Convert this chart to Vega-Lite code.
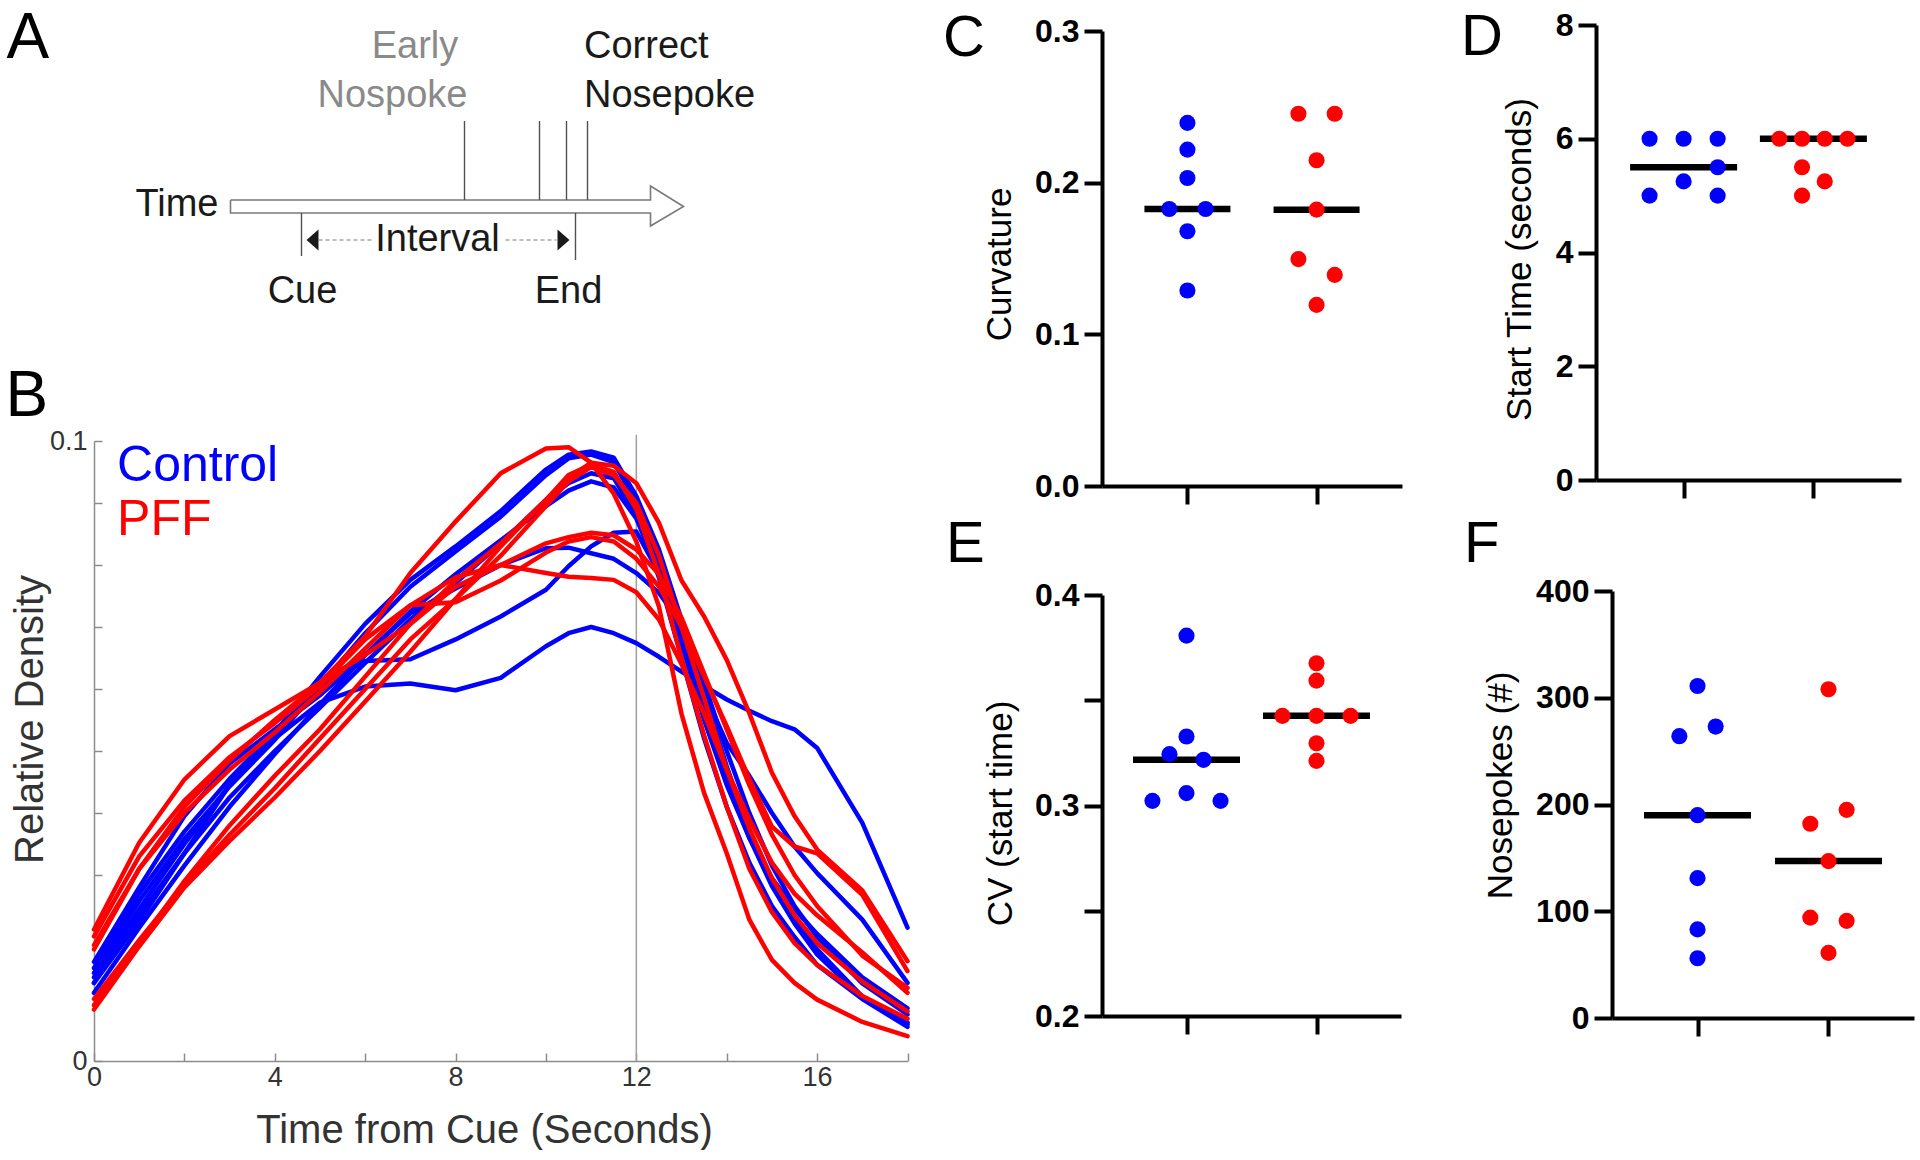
{
"$schema": "https://vega.github.io/schema/vega-lite/v6.json",
"background": "white",
"padding": {"left": 5, "top": 7, "right": 0, "bottom": 0},
"columns": 3,
"align": "none",
"bounds": "flush",
"spacing": {"row": 109, "column": 194},
"datasets": {
"curves": [
{"g":"Control","id":"c1","t":0,"v":0.0135},{"g":"Control","id":"c1","t":1,"v":0.0245},{"g":"Control","id":"c1","t":2,"v":0.035},{"g":"Control","id":"c1","t":3,"v":0.0445},{"g":"Control","id":"c1","t":4,"v":0.052},{"g":"Control","id":"c1","t":5,"v":0.0578},{"g":"Control","id":"c1","t":6,"v":0.0604},{"g":"Control","id":"c1","t":7,"v":0.0609},{"g":"Control","id":"c1","t":8,"v":0.0598},{"g":"Control","id":"c1","t":9,"v":0.0618},{"g":"Control","id":"c1","t":10,"v":0.0669},{"g":"Control","id":"c1","t":10.5,"v":0.069},{"g":"Control","id":"c1","t":11,"v":0.07},{"g":"Control","id":"c1","t":11.5,"v":0.069},{"g":"Control","id":"c1","t":12,"v":0.0674},{"g":"Control","id":"c1","t":12.5,"v":0.0652},{"g":"Control","id":"c1","t":13,"v":0.0628},{"g":"Control","id":"c1","t":13.5,"v":0.0605},{"g":"Control","id":"c1","t":14,"v":0.0583},{"g":"Control","id":"c1","t":14.5,"v":0.0565},{"g":"Control","id":"c1","t":15,"v":0.0548},{"g":"Control","id":"c1","t":15.5,"v":0.0535},{"g":"Control","id":"c1","t":16,"v":0.0505},{"g":"Control","id":"c1","t":17,"v":0.0384},{"g":"Control","id":"c1","t":18,"v":0.0215},
{"g":"Control","id":"c2","t":0,"v":0.015},{"g":"Control","id":"c2","t":1,"v":0.027},{"g":"Control","id":"c2","t":2,"v":0.037},{"g":"Control","id":"c2","t":3,"v":0.0455},{"g":"Control","id":"c2","t":4,"v":0.053},{"g":"Control","id":"c2","t":5,"v":0.062},{"g":"Control","id":"c2","t":6,"v":0.0705},{"g":"Control","id":"c2","t":7,"v":0.0776},{"g":"Control","id":"c2","t":8,"v":0.083},{"g":"Control","id":"c2","t":9,"v":0.0887},{"g":"Control","id":"c2","t":10,"v":0.0954},{"g":"Control","id":"c2","t":10.5,"v":0.0978},{"g":"Control","id":"c2","t":11,"v":0.0983},{"g":"Control","id":"c2","t":11.5,"v":0.0973},{"g":"Control","id":"c2","t":12,"v":0.0911},{"g":"Control","id":"c2","t":12.5,"v":0.0825},{"g":"Control","id":"c2","t":13,"v":0.0712},{"g":"Control","id":"c2","t":13.5,"v":0.0594},{"g":"Control","id":"c2","t":14,"v":0.0475},{"g":"Control","id":"c2","t":14.5,"v":0.037},{"g":"Control","id":"c2","t":15,"v":0.0292},{"g":"Control","id":"c2","t":15.5,"v":0.0228},{"g":"Control","id":"c2","t":16,"v":0.018},{"g":"Control","id":"c2","t":17,"v":0.0104},{"g":"Control","id":"c2","t":18,"v":0.0059},
{"g":"Control","id":"c3","t":0,"v":0.0142},{"g":"Control","id":"c3","t":1,"v":0.0258},{"g":"Control","id":"c3","t":2,"v":0.0358},{"g":"Control","id":"c3","t":3,"v":0.0443},{"g":"Control","id":"c3","t":4,"v":0.0518},{"g":"Control","id":"c3","t":5,"v":0.0605},{"g":"Control","id":"c3","t":6,"v":0.069},{"g":"Control","id":"c3","t":7,"v":0.0765},{"g":"Control","id":"c3","t":8,"v":0.0822},{"g":"Control","id":"c3","t":9,"v":0.0878},{"g":"Control","id":"c3","t":10,"v":0.0945},{"g":"Control","id":"c3","t":10.5,"v":0.0972},{"g":"Control","id":"c3","t":11,"v":0.0978},{"g":"Control","id":"c3","t":11.5,"v":0.0966},{"g":"Control","id":"c3","t":12,"v":0.09},{"g":"Control","id":"c3","t":12.5,"v":0.0805},{"g":"Control","id":"c3","t":13,"v":0.069},{"g":"Control","id":"c3","t":13.5,"v":0.057},{"g":"Control","id":"c3","t":14,"v":0.0455},{"g":"Control","id":"c3","t":14.5,"v":0.036},{"g":"Control","id":"c3","t":15,"v":0.0282},{"g":"Control","id":"c3","t":15.5,"v":0.0222},{"g":"Control","id":"c3","t":16,"v":0.0172},{"g":"Control","id":"c3","t":17,"v":0.0102},{"g":"Control","id":"c3","t":18,"v":0.0062},
{"g":"Control","id":"c4","t":0,"v":0.0126},{"g":"Control","id":"c4","t":1,"v":0.0235},{"g":"Control","id":"c4","t":2,"v":0.0335},{"g":"Control","id":"c4","t":3,"v":0.0425},{"g":"Control","id":"c4","t":4,"v":0.05},{"g":"Control","id":"c4","t":5,"v":0.057},{"g":"Control","id":"c4","t":6,"v":0.0642},{"g":"Control","id":"c4","t":7,"v":0.0712},{"g":"Control","id":"c4","t":8,"v":0.0771},{"g":"Control","id":"c4","t":9,"v":0.0835},{"g":"Control","id":"c4","t":10,"v":0.0905},{"g":"Control","id":"c4","t":10.5,"v":0.0932},{"g":"Control","id":"c4","t":11,"v":0.0948},{"g":"Control","id":"c4","t":11.5,"v":0.094},{"g":"Control","id":"c4","t":12,"v":0.088},{"g":"Control","id":"c4","t":12.5,"v":0.078},{"g":"Control","id":"c4","t":13,"v":0.065},{"g":"Control","id":"c4","t":13.5,"v":0.052},{"g":"Control","id":"c4","t":14,"v":0.041},{"g":"Control","id":"c4","t":14.5,"v":0.032},{"g":"Control","id":"c4","t":15,"v":0.025},{"g":"Control","id":"c4","t":15.5,"v":0.02},{"g":"Control","id":"c4","t":16,"v":0.0155},{"g":"Control","id":"c4","t":17,"v":0.01},{"g":"Control","id":"c4","t":18,"v":0.0055},
{"g":"Control","id":"c5","t":0,"v":0.011},{"g":"Control","id":"c5","t":1,"v":0.0215},{"g":"Control","id":"c5","t":2,"v":0.0315},{"g":"Control","id":"c5","t":3,"v":0.041},{"g":"Control","id":"c5","t":4,"v":0.0495},{"g":"Control","id":"c5","t":5,"v":0.0575},{"g":"Control","id":"c5","t":6,"v":0.0655},{"g":"Control","id":"c5","t":7,"v":0.0725},{"g":"Control","id":"c5","t":8,"v":0.0785},{"g":"Control","id":"c5","t":9,"v":0.084},{"g":"Control","id":"c5","t":10,"v":0.0895},{"g":"Control","id":"c5","t":10.5,"v":0.092},{"g":"Control","id":"c5","t":11,"v":0.0935},{"g":"Control","id":"c5","t":11.5,"v":0.0925},{"g":"Control","id":"c5","t":12,"v":0.0875},{"g":"Control","id":"c5","t":12.5,"v":0.079},{"g":"Control","id":"c5","t":13,"v":0.0675},{"g":"Control","id":"c5","t":13.5,"v":0.055},{"g":"Control","id":"c5","t":14,"v":0.0445},{"g":"Control","id":"c5","t":14.5,"v":0.036},{"g":"Control","id":"c5","t":15,"v":0.0295},{"g":"Control","id":"c5","t":15.5,"v":0.0245},{"g":"Control","id":"c5","t":16,"v":0.0205},{"g":"Control","id":"c5","t":17,"v":0.0135},{"g":"Control","id":"c5","t":18,"v":0.0085},
{"g":"Control","id":"c6","t":0,"v":0.016},{"g":"Control","id":"c6","t":1,"v":0.028},{"g":"Control","id":"c6","t":2,"v":0.0395},{"g":"Control","id":"c6","t":3,"v":0.048},{"g":"Control","id":"c6","t":4,"v":0.0535},{"g":"Control","id":"c6","t":5,"v":0.059},{"g":"Control","id":"c6","t":6,"v":0.0655},{"g":"Control","id":"c6","t":7,"v":0.0722},{"g":"Control","id":"c6","t":8,"v":0.0762},{"g":"Control","id":"c6","t":9,"v":0.08},{"g":"Control","id":"c6","t":10,"v":0.0827},{"g":"Control","id":"c6","t":10.5,"v":0.0828},{"g":"Control","id":"c6","t":11,"v":0.0819},{"g":"Control","id":"c6","t":11.5,"v":0.081},{"g":"Control","id":"c6","t":12,"v":0.0787},{"g":"Control","id":"c6","t":12.5,"v":0.0755},{"g":"Control","id":"c6","t":13,"v":0.0705},{"g":"Control","id":"c6","t":13.5,"v":0.061},{"g":"Control","id":"c6","t":14,"v":0.05},{"g":"Control","id":"c6","t":14.5,"v":0.04},{"g":"Control","id":"c6","t":15,"v":0.0315},{"g":"Control","id":"c6","t":15.5,"v":0.025},{"g":"Control","id":"c6","t":16,"v":0.02},{"g":"Control","id":"c6","t":17,"v":0.0125},{"g":"Control","id":"c6","t":18,"v":0.0075},
{"g":"Control","id":"c7","t":0,"v":0.0126},{"g":"Control","id":"c7","t":1,"v":0.0225},{"g":"Control","id":"c7","t":2,"v":0.0335},{"g":"Control","id":"c7","t":3,"v":0.0445},{"g":"Control","id":"c7","t":4,"v":0.053},{"g":"Control","id":"c7","t":5,"v":0.0605},{"g":"Control","id":"c7","t":6,"v":0.0645},{"g":"Control","id":"c7","t":7,"v":0.0648},{"g":"Control","id":"c7","t":8,"v":0.068},{"g":"Control","id":"c7","t":9,"v":0.0717},{"g":"Control","id":"c7","t":10,"v":0.076},{"g":"Control","id":"c7","t":10.5,"v":0.0798},{"g":"Control","id":"c7","t":11,"v":0.083},{"g":"Control","id":"c7","t":11.5,"v":0.0852},{"g":"Control","id":"c7","t":12,"v":0.0854},{"g":"Control","id":"c7","t":12.5,"v":0.0787},{"g":"Control","id":"c7","t":13,"v":0.069},{"g":"Control","id":"c7","t":13.5,"v":0.0594},{"g":"Control","id":"c7","t":14,"v":0.0513},{"g":"Control","id":"c7","t":14.5,"v":0.046},{"g":"Control","id":"c7","t":15,"v":0.04},{"g":"Control","id":"c7","t":15.5,"v":0.0346},{"g":"Control","id":"c7","t":16,"v":0.0303},{"g":"Control","id":"c7","t":17,"v":0.0228},{"g":"Control","id":"c7","t":18,"v":0.0126},
{"g":"PFF","id":"p1","t":0,"v":0.018},{"g":"PFF","id":"p1","t":1,"v":0.031},{"g":"PFF","id":"p1","t":2,"v":0.041},{"g":"PFF","id":"p1","t":3,"v":0.0485},{"g":"PFF","id":"p1","t":4,"v":0.055},{"g":"PFF","id":"p1","t":5,"v":0.061},{"g":"PFF","id":"p1","t":6,"v":0.0685},{"g":"PFF","id":"p1","t":7,"v":0.0787},{"g":"PFF","id":"p1","t":8,"v":0.087},{"g":"PFF","id":"p1","t":9,"v":0.0948},{"g":"PFF","id":"p1","t":10,"v":0.0988},{"g":"PFF","id":"p1","t":10.5,"v":0.099},{"g":"PFF","id":"p1","t":11,"v":0.0965},{"g":"PFF","id":"p1","t":11.5,"v":0.0915},{"g":"PFF","id":"p1","t":12,"v":0.0838},{"g":"PFF","id":"p1","t":12.5,"v":0.0733},{"g":"PFF","id":"p1","t":13,"v":0.056},{"g":"PFF","id":"p1","t":13.5,"v":0.0432},{"g":"PFF","id":"p1","t":14,"v":0.0335},{"g":"PFF","id":"p1","t":14.5,"v":0.0228},{"g":"PFF","id":"p1","t":15,"v":0.0163},{"g":"PFF","id":"p1","t":15.5,"v":0.0126},{"g":"PFF","id":"p1","t":16,"v":0.0099},{"g":"PFF","id":"p1","t":17,"v":0.0063},{"g":"PFF","id":"p1","t":18,"v":0.004},
{"g":"PFF","id":"p2","t":0,"v":0.009},{"g":"PFF","id":"p2","t":1,"v":0.019},{"g":"PFF","id":"p2","t":2,"v":0.029},{"g":"PFF","id":"p2","t":3,"v":0.038},{"g":"PFF","id":"p2","t":4,"v":0.046},{"g":"PFF","id":"p2","t":5,"v":0.0535},{"g":"PFF","id":"p2","t":6,"v":0.062},{"g":"PFF","id":"p2","t":7,"v":0.0705},{"g":"PFF","id":"p2","t":8,"v":0.0775},{"g":"PFF","id":"p2","t":9,"v":0.0835},{"g":"PFF","id":"p2","t":10,"v":0.0905},{"g":"PFF","id":"p2","t":10.5,"v":0.094},{"g":"PFF","id":"p2","t":11,"v":0.0965},{"g":"PFF","id":"p2","t":11.5,"v":0.096},{"g":"PFF","id":"p2","t":12,"v":0.0932},{"g":"PFF","id":"p2","t":12.5,"v":0.0868},{"g":"PFF","id":"p2","t":13,"v":0.0775},{"g":"PFF","id":"p2","t":13.5,"v":0.0717},{"g":"PFF","id":"p2","t":14,"v":0.0647},{"g":"PFF","id":"p2","t":14.5,"v":0.0561},{"g":"PFF","id":"p2","t":15,"v":0.0465},{"g":"PFF","id":"p2","t":15.5,"v":0.0395},{"g":"PFF","id":"p2","t":16,"v":0.0341},{"g":"PFF","id":"p2","t":17,"v":0.0275},{"g":"PFF","id":"p2","t":18,"v":0.0161},
{"g":"PFF","id":"p3","t":0,"v":0.01},{"g":"PFF","id":"p3","t":1,"v":0.0195},{"g":"PFF","id":"p3","t":2,"v":0.0285},{"g":"PFF","id":"p3","t":3,"v":0.0365},{"g":"PFF","id":"p3","t":4,"v":0.044},{"g":"PFF","id":"p3","t":5,"v":0.052},{"g":"PFF","id":"p3","t":6,"v":0.06},{"g":"PFF","id":"p3","t":7,"v":0.068},{"g":"PFF","id":"p3","t":8,"v":0.0745},{"g":"PFF","id":"p3","t":9,"v":0.0815},{"g":"PFF","id":"p3","t":10,"v":0.0895},{"g":"PFF","id":"p3","t":10.5,"v":0.0935},{"g":"PFF","id":"p3","t":11,"v":0.0958},{"g":"PFF","id":"p3","t":11.5,"v":0.0945},{"g":"PFF","id":"p3","t":12,"v":0.09},{"g":"PFF","id":"p3","t":12.5,"v":0.0815},{"g":"PFF","id":"p3","t":13,"v":0.07},{"g":"PFF","id":"p3","t":13.5,"v":0.0585},{"g":"PFF","id":"p3","t":14,"v":0.047},{"g":"PFF","id":"p3","t":14.5,"v":0.0375},{"g":"PFF","id":"p3","t":15,"v":0.0295},{"g":"PFF","id":"p3","t":15.5,"v":0.0235},{"g":"PFF","id":"p3","t":16,"v":0.019},{"g":"PFF","id":"p3","t":17,"v":0.0128},{"g":"PFF","id":"p3","t":18,"v":0.008},
{"g":"PFF","id":"p4","t":0,"v":0.0212},{"g":"PFF","id":"p4","t":1,"v":0.0352},{"g":"PFF","id":"p4","t":2,"v":0.0454},{"g":"PFF","id":"p4","t":3,"v":0.0524},{"g":"PFF","id":"p4","t":4,"v":0.0567},{"g":"PFF","id":"p4","t":5,"v":0.061},{"g":"PFF","id":"p4","t":6,"v":0.0655},{"g":"PFF","id":"p4","t":7,"v":0.0705},{"g":"PFF","id":"p4","t":8,"v":0.0765},{"g":"PFF","id":"p4","t":9,"v":0.08},{"g":"PFF","id":"p4","t":10,"v":0.0835},{"g":"PFF","id":"p4","t":10.5,"v":0.0845},{"g":"PFF","id":"p4","t":11,"v":0.0852},{"g":"PFF","id":"p4","t":11.5,"v":0.0848},{"g":"PFF","id":"p4","t":12,"v":0.0825},{"g":"PFF","id":"p4","t":12.5,"v":0.0785},{"g":"PFF","id":"p4","t":13,"v":0.0715},{"g":"PFF","id":"p4","t":13.5,"v":0.0625},{"g":"PFF","id":"p4","t":14,"v":0.0535},{"g":"PFF","id":"p4","t":14.5,"v":0.0445},{"g":"PFF","id":"p4","t":15,"v":0.0365},{"g":"PFF","id":"p4","t":15.5,"v":0.03},{"g":"PFF","id":"p4","t":16,"v":0.025},{"g":"PFF","id":"p4","t":17,"v":0.017},{"g":"PFF","id":"p4","t":18,"v":0.0118},
{"g":"PFF","id":"p5","t":0,"v":0.0201},{"g":"PFF","id":"p5","t":1,"v":0.033},{"g":"PFF","id":"p5","t":2,"v":0.042},{"g":"PFF","id":"p5","t":3,"v":0.049},{"g":"PFF","id":"p5","t":4,"v":0.0545},{"g":"PFF","id":"p5","t":5,"v":0.0605},{"g":"PFF","id":"p5","t":6,"v":0.068},{"g":"PFF","id":"p5","t":7,"v":0.0735},{"g":"PFF","id":"p5","t":8,"v":0.074},{"g":"PFF","id":"p5","t":9,"v":0.0775},{"g":"PFF","id":"p5","t":10,"v":0.082},{"g":"PFF","id":"p5","t":10.5,"v":0.0838},{"g":"PFF","id":"p5","t":11,"v":0.0845},{"g":"PFF","id":"p5","t":11.5,"v":0.0838},{"g":"PFF","id":"p5","t":12,"v":0.081},{"g":"PFF","id":"p5","t":12.5,"v":0.0765},{"g":"PFF","id":"p5","t":13,"v":0.07},{"g":"PFF","id":"p5","t":13.5,"v":0.062},{"g":"PFF","id":"p5","t":14,"v":0.054},{"g":"PFF","id":"p5","t":14.5,"v":0.0455},{"g":"PFF","id":"p5","t":15,"v":0.0378},{"g":"PFF","id":"p5","t":15.5,"v":0.0346},{"g":"PFF","id":"p5","t":16,"v":0.0335},{"g":"PFF","id":"p5","t":17,"v":0.0268},{"g":"PFF","id":"p5","t":18,"v":0.0145},
{"g":"PFF","id":"p6","t":0,"v":0.0187},{"g":"PFF","id":"p6","t":1,"v":0.031},{"g":"PFF","id":"p6","t":2,"v":0.04},{"g":"PFF","id":"p6","t":3,"v":0.047},{"g":"PFF","id":"p6","t":4,"v":0.053},{"g":"PFF","id":"p6","t":5,"v":0.0595},{"g":"PFF","id":"p6","t":6,"v":0.0665},{"g":"PFF","id":"p6","t":7,"v":0.0735},{"g":"PFF","id":"p6","t":8,"v":0.078},{"g":"PFF","id":"p6","t":9,"v":0.08},{"g":"PFF","id":"p6","t":10,"v":0.0787},{"g":"PFF","id":"p6","t":10.5,"v":0.0781},{"g":"PFF","id":"p6","t":11,"v":0.0779},{"g":"PFF","id":"p6","t":11.5,"v":0.0776},{"g":"PFF","id":"p6","t":12,"v":0.0756},{"g":"PFF","id":"p6","t":12.5,"v":0.0712},{"g":"PFF","id":"p6","t":13,"v":0.064},{"g":"PFF","id":"p6","t":13.5,"v":0.056},{"g":"PFF","id":"p6","t":14,"v":0.047},{"g":"PFF","id":"p6","t":14.5,"v":0.039},{"g":"PFF","id":"p6","t":15,"v":0.032},{"g":"PFF","id":"p6","t":15.5,"v":0.027},{"g":"PFF","id":"p6","t":16,"v":0.0235},{"g":"PFF","id":"p6","t":17,"v":0.0175},{"g":"PFF","id":"p6","t":18,"v":0.011},
{"g":"PFF","id":"p7","t":0,"v":0.0083},{"g":"PFF","id":"p7","t":1,"v":0.0185},{"g":"PFF","id":"p7","t":2,"v":0.028},{"g":"PFF","id":"p7","t":3,"v":0.0355},{"g":"PFF","id":"p7","t":4,"v":0.0425},{"g":"PFF","id":"p7","t":5,"v":0.05},{"g":"PFF","id":"p7","t":6,"v":0.058},{"g":"PFF","id":"p7","t":7,"v":0.066},{"g":"PFF","id":"p7","t":8,"v":0.0745},{"g":"PFF","id":"p7","t":9,"v":0.083},{"g":"PFF","id":"p7","t":10,"v":0.0905},{"g":"PFF","id":"p7","t":10.5,"v":0.0945},{"g":"PFF","id":"p7","t":11,"v":0.0962},{"g":"PFF","id":"p7","t":11.5,"v":0.095},{"g":"PFF","id":"p7","t":12,"v":0.089},{"g":"PFF","id":"p7","t":12.5,"v":0.0785},{"g":"PFF","id":"p7","t":13,"v":0.065},{"g":"PFF","id":"p7","t":13.5,"v":0.0525},{"g":"PFF","id":"p7","t":14,"v":0.041},{"g":"PFF","id":"p7","t":14.5,"v":0.031},{"g":"PFF","id":"p7","t":15,"v":0.024},{"g":"PFF","id":"p7","t":15.5,"v":0.019},{"g":"PFF","id":"p7","t":16,"v":0.0155},{"g":"PFF","id":"p7","t":17,"v":0.0105},{"g":"PFF","id":"p7","t":18,"v":0.0068}
],
"c": [
{"g":"Control","v":0.2394,"s":0},{"g":"Control","v":0.2218,"s":0},{"g":"Control","v":0.2031,"s":0},{"g":"Control","v":0.1826,"s":-0.8},{"g":"Control","v":0.1826,"s":0.8},{"g":"Control","v":0.168,"s":0},{"g":"Control","v":0.1289,"s":0},
{"g":"PFF","v":0.2454,"s":-0.8},{"g":"PFF","v":0.2454,"s":0.8},{"g":"PFF","v":0.2148,"s":0},{"g":"PFF","v":0.1822,"s":0},{"g":"PFF","v":0.1496,"s":-0.8},{"g":"PFF","v":0.1392,"s":0.8},{"g":"PFF","v":0.1194,"s":0}
],
"d": [
{"g":"Control","v":6,"s":-1.5},{"g":"Control","v":6,"s":0},{"g":"Control","v":6,"s":1.5},{"g":"Control","v":5.5,"s":1.5},{"g":"Control","v":5.25,"s":0},{"g":"Control","v":5,"s":-1.5},{"g":"Control","v":5,"s":1.5},
{"g":"PFF","v":6,"s":-1.5},{"g":"PFF","v":6,"s":-0.5},{"g":"PFF","v":6,"s":0.5},{"g":"PFF","v":6,"s":1.5},{"g":"PFF","v":5.5,"s":-0.5},{"g":"PFF","v":5.25,"s":0.5},{"g":"PFF","v":5,"s":-0.5}
],
"e": [
{"g":"Control","v":0.3807,"s":0},{"g":"Control","v":0.3328,"s":0},{"g":"Control","v":0.3244,"s":-0.75},{"g":"Control","v":0.3217,"s":0.75},{"g":"Control","v":0.3059,"s":0},{"g":"Control","v":0.3022,"s":-1.5},{"g":"Control","v":0.3022,"s":1.5},
{"g":"PFF","v":0.3676,"s":0},{"g":"PFF","v":0.3593,"s":0},{"g":"PFF","v":0.3426,"s":-1.5},{"g":"PFF","v":0.3426,"s":0},{"g":"PFF","v":0.3426,"s":1.5},{"g":"PFF","v":0.3296,"s":0},{"g":"PFF","v":0.3212,"s":0}
],
"f": [
{"g":"Control","v":311,"s":0},{"g":"Control","v":273,"s":0.8},{"g":"Control","v":264,"s":-0.8},{"g":"Control","v":190,"s":0},{"g":"Control","v":131,"s":0},{"g":"Control","v":83,"s":0},{"g":"Control","v":56,"s":0},
{"g":"PFF","v":308,"s":0},{"g":"PFF","v":195,"s":0.8},{"g":"PFF","v":182,"s":-0.8},{"g":"PFF","v":147,"s":0},{"g":"PFF","v":94,"s":-0.8},{"g":"PFF","v":91,"s":0.8},{"g":"PFF","v":61,"s":0}
]
},
"concat": [
{
"width": 813.5,
"height": 307,
"title": {"text": "A", "dx": -87.5, "dy": 50, "fontSize": 64},
"encoding": {
"x": {"field": "u", "type": "quantitative", "scale": {"domain": [0, 81.35], "nice": false, "zero": false}, "axis": null},
"y": {"field": "w", "type": "quantitative", "scale": {"domain": [0, 30.7], "nice": false, "zero": false}, "axis": null}
},
"layer": [
{
"data": {"values": [{"i":1,"u":13.65,"w":13.2},{"i":2,"u":55.65,"w":13.2},{"i":3,"u":55.65,"w":14.6},{"i":4,"u":58.95,"w":12.55},{"i":5,"u":55.65,"w":10.6},{"i":6,"u":55.65,"w":11.9},{"i":7,"u":13.65,"w":11.9},{"i":8,"u":13.65,"w":13.2}]},
"mark": {"type": "line", "color": "#7a7a7a", "strokeWidth": 1.6, "strokeJoin": "miter"},
"encoding": {"order": {"field": "i", "type": "quantitative"}}
},
{
"data": {"values": [{"u":37.05,"w":13.2,"w2":21.1},{"u":44.55,"w":13.2,"w2":21.1},{"u":47.25,"w":13.2,"w2":21.1},{"u":49.35,"w":13.2,"w2":21.1},{"u":20.75,"w":7.6,"w2":11.9},{"u":48.15,"w":7.2,"w2":11.9}]},
"mark": {"type": "rule", "color": "#505050", "strokeWidth": 1.4},
"encoding": {"y2": {"field": "w2"}}
},
{
"data": {"values": [{"u":22.45,"u2":27.95,"w":9.2},{"u":41.15,"u2":46.25,"w":9.2}]},
"mark": {"type": "rule", "color": "#a8a8a8", "strokeWidth": 1.4, "strokeDash": [4, 3]},
"encoding": {"x2": {"field": "u2"}}
},
{
"data": {"values": [{"u":21.85,"w":9.2,"dir":"left"},{"u":46.95,"w":9.2,"dir":"right"}]},
"mark": {"type": "point", "filled": true, "color": "#1a1a1a", "size": 441, "opacity": 1, "strokeWidth": 0},
"encoding": {"shape": {"field": "dir", "type": "nominal", "scale": {"domain": ["left", "right"], "range": ["M0.57,-1L-0.57,0L0.57,1Z", "M-0.57,-1L0.57,0L-0.57,1Z"]}, "legend": null}}
},
{
"data": {"values": [{"label":"Early","u":32.1,"w":27.4},{"label":"Nospoke","u":29.85,"w":22.5}]},
"mark": {"type": "text", "font": "Liberation Sans", "fontSize": 38, "color": "#8a8a8a", "align": "center", "baseline": "alphabetic"},
"encoding": {"text": {"field": "label"}}
},
{
"data": {"values": [{"label":"Correct","u":49.0,"w":27.4},{"label":"Nosepoke","u":49.0,"w":22.5}]},
"mark": {"type": "text", "font": "Liberation Sans", "fontSize": 38, "color": "#1a1a1a", "align": "left", "baseline": "alphabetic"},
"encoding": {"text": {"field": "label"}}
},
{
"data": {"values": [{"label":"Time","u":12.45,"w":11.6}]},
"mark": {"type": "text", "font": "Liberation Sans", "fontSize": 38, "color": "#1a1a1a", "align": "right", "baseline": "alphabetic"},
"encoding": {"text": {"field": "label"}}
},
{
"data": {"values": [{"label":"Interval","u":34.35,"w":8.1},{"label":"Cue","u":20.85,"w":2.9},{"label":"End","u":47.45,"w":2.9}]},
"mark": {"type": "text", "font": "Liberation Sans", "fontSize": 38, "color": "#1a1a1a", "align": "center", "baseline": "alphabetic"},
"encoding": {"text": {"field": "label"}}
}
]
},
{
"width": 300,
"height": 307,
"title": {"text": "C", "dx": -159, "dy": 57, "fontSize": 58},
"data": {"name": "c"},
"encoding": {
"x": {"field": "g", "type": "nominal", "scale": {"type": "point", "domain": ["Control", "PFF"], "padding": 0.6615}, "axis": {"title": null, "labels": false, "offset": 154, "domainColor": "#000", "domainWidth": 4, "tickColor": "#000", "tickWidth": 4, "tickSize": 18}}
},
"layer": [
{
"mark": {"type": "tick", "color": "#000", "thickness": 6.5, "size": 86},
"encoding": {"y": {"field": "v", "type": "quantitative", "aggregate": "median", "title": "Curvature"}}
},
{
"mark": {"type": "point", "filled": true, "size": 260, "opacity": 1, "strokeWidth": 0},
"encoding": {
"y": {"field": "v", "type": "quantitative", "title": "Curvature", "scale": {"domain": [0, 0.3], "nice": false, "range": [461, 6]},
"axis": {"values": [0, 0.1, 0.2, 0.3], "format": ".1f", "domainColor": "#000", "domainWidth": 4, "tickColor": "#000", "tickWidth": 4, "tickSize": 18, "labelFontWeight": "bold", "labelFontSize": 32, "labelColor": "#000", "labelPadding": 5, "titleFontSize": 35, "titleFontWeight": "normal", "titleColor": "#000", "titleX": -92, "titleY": 239, "titleAngle": -90, "titleBaseline": "alphabetic", "titleAlign": "center"}},
"xOffset": {"field": "s", "type": "quantitative", "scale": {"domain": [-1, 1], "range": [-22.7, 22.7]}},
"color": {"field": "g", "type": "nominal", "scale": {"domain": ["Control", "PFF"], "range": ["#0000ff", "#ff0000"]}, "legend": null}
}
}
]
},
{
"width": 305,
"height": 307,
"title": {"text": "D", "dx": -151, "dy": 62, "fontSize": 58},
"data": {"name": "d"},
"encoding": {
"x": {"field": "g", "type": "nominal", "scale": {"type": "point", "domain": ["Control", "PFF"], "padding": 0.675, "range": [-16, 289]}, "axis": {"title": null, "labels": false, "offset": 148, "domainColor": "#000", "domainWidth": 4, "tickColor": "#000", "tickWidth": 4, "tickSize": 18}}
},
"layer": [
{
"mark": {"type": "tick", "color": "#000", "thickness": 6.5, "size": 107},
"encoding": {"y": {"field": "v", "type": "quantitative", "aggregate": "median", "title": "Start Time (seconds)"}}
},
{
"mark": {"type": "point", "filled": true, "size": 260, "opacity": 1, "strokeWidth": 0},
"encoding": {
"y": {"field": "v", "type": "quantitative", "title": "Start Time (seconds)", "scale": {"domain": [0, 8], "nice": false, "range": [455, 0]},
"axis": {"values": [0, 2, 4, 6, 8], "format": "d", "offset": 16, "domainColor": "#000", "domainWidth": 4, "tickColor": "#000", "tickWidth": 4, "tickSize": 18, "labelFontWeight": "bold", "labelFontSize": 32, "labelColor": "#000", "labelPadding": 5, "titleFontSize": 35, "titleFontWeight": "normal", "titleColor": "#000", "titleX": -66, "titleY": 234, "titleAngle": -90, "titleBaseline": "alphabetic", "titleAlign": "center"}},
"xOffset": {"field": "s", "type": "quantitative", "scale": {"domain": [-1, 1], "range": [-22.7, 22.7]}},
"color": {"field": "g", "type": "nominal", "scale": {"domain": ["Control", "PFF"], "range": ["#0000ff", "#ff0000"]}, "legend": null}
}
}
]
},
{
"width": 813.5,
"height": 620,
"title": {"text": "B", "dx": -88.5, "dy": 6, "fontSize": 64},
"encoding": {
"x": {"field": "t", "type": "quantitative", "title": "Time from Cue (Seconds)", "scale": {"domain": [0, 18], "nice": false, "zero": false},
"axis": {"values": [0,2,4,6,8,10,12,14,16,18], "labelExpr": "(datum.value % 4 == 0 && datum.value < 17) ? datum.label : ''", "tickSize": -8, "tickWidth": 1.5, "tickColor": "#8c8c8c", "domainColor": "#8c8c8c", "domainWidth": 1.5, "labelFontSize": 27, "labelColor": "#333333", "labelPadding": 11, "labelFlush": false, "titleFontSize": 40, "titleFontWeight": "normal", "titleColor": "#333333", "titleX": 390, "titleY": 81, "titleBaseline": "alphabetic", "titleAlign": "center"}},
"y": {"field": "v", "type": "quantitative", "title": "Relative Density", "scale": {"domain": [0, 0.1], "nice": false, "zero": true},
"axis": {"values": [0,0.01,0.02,0.03,0.04,0.05,0.06,0.07,0.08,0.09,0.1], "labelExpr": "datum.value == 0 ? '0' : (datum.value > 0.0995 ? '0.1' : '')", "tickSize": -8, "tickWidth": 1.5, "tickColor": "#8c8c8c", "domainColor": "#8c8c8c", "domainWidth": 1.5, "labelFontSize": 27, "labelColor": "#333333", "labelPadding": 15, "titleFontSize": 40, "titleFontWeight": "normal", "titleColor": "#333333", "titleX": -51.5, "titleY": 278, "titleAngle": -90, "titleBaseline": "alphabetic", "titleAlign": "center"}}
},
"layer": [
{
"data": {"values": [{"t": 12, "v": 0, "v2": 0.101}]},
"mark": {"type": "rule", "color": "#a0a0a0", "strokeWidth": 1.5},
"encoding": {"y2": {"field": "v2"}}
},
{
"data": {"name": "curves"},
"mark": {"type": "line", "strokeWidth": 4.5, "strokeJoin": "round", "strokeCap": "round"},
"encoding": {
"detail": {"field": "id", "type": "nominal"},
"color": {"field": "g", "type": "nominal", "scale": {"domain": ["Control", "PFF"], "range": ["#0000ff", "#ff0000"]}, "legend": null}
}
},
{
"data": {"values": [{"g": "Control", "t": 0.51, "v": 0.0935}, {"g": "PFF", "t": 0.51, "v": 0.0848}]},
"mark": {"type": "text", "align": "left", "baseline": "alphabetic", "fontSize": 50, "font": "Liberation Sans"},
"encoding": {
"text": {"field": "g"},
"color": {"field": "g", "type": "nominal", "legend": null}
}
}
]
},
{
"width": 316,
"height": 575,
"title": {"text": "E", "dx": -156, "dy": 136.5, "fontSize": 58},
"data": {"name": "e"},
"encoding": {
"x": {"field": "g", "type": "nominal", "scale": {"type": "point", "domain": ["Control", "PFF"], "padding": 0.65, "range": [0, 299]}, "axis": {"title": null, "labels": false, "domainColor": "#000", "domainWidth": 4, "tickColor": "#000", "tickWidth": 4, "tickSize": 18}}
},
"layer": [
{
"mark": {"type": "tick", "color": "#000", "thickness": 6.5, "size": 107},
"encoding": {"y": {"field": "v", "type": "quantitative", "aggregate": "median", "title": "CV (start time)"}}
},
{
"mark": {"type": "point", "filled": true, "size": 260, "opacity": 1, "strokeWidth": 0},
"encoding": {
"y": {"field": "v", "type": "quantitative", "title": "CV (start time)", "scale": {"domain": [0.2, 0.4], "nice": false, "zero": false, "range": [575, 154]},
"axis": {"values": [0.2, 0.25, 0.3, 0.35, 0.4], "labelExpr": "abs(datum.value * 10 - round(datum.value * 10)) < 0.001 ? format(datum.value, '.1f') : ''", "domainColor": "#000", "domainWidth": 4, "tickColor": "#000", "tickWidth": 4, "tickSize": 18, "labelFontWeight": "bold", "labelFontSize": 32, "labelColor": "#000", "labelPadding": 5, "titleFontSize": 35, "titleFontWeight": "normal", "titleColor": "#000", "titleX": -91, "titleY": 372, "titleAngle": -90, "titleBaseline": "alphabetic", "titleAlign": "center"}},
"xOffset": {"field": "s", "type": "quantitative", "scale": {"domain": [-1, 1], "range": [-22.7, 22.7]}},
"color": {"field": "g", "type": "nominal", "scale": {"domain": ["Control", "PFF"], "range": ["#0000ff", "#ff0000"]}, "legend": null}
}
}
]
},
{
"width": 302,
"height": 577,
"title": {"text": "F", "dx": -148, "dy": 136.5, "fontSize": 58},
"data": {"name": "f"},
"encoding": {
"x": {"field": "g", "type": "nominal", "scale": {"type": "point", "domain": ["Control", "PFF"], "padding": 0.653}, "axis": {"title": null, "labels": false, "domainColor": "#000", "domainWidth": 4, "tickColor": "#000", "tickWidth": 4, "tickSize": 18}}
},
"layer": [
{
"mark": {"type": "tick", "color": "#000", "thickness": 6.5, "size": 107},
"encoding": {"y": {"field": "v", "type": "quantitative", "aggregate": "median", "title": "Nosepokes (#)"}}
},
{
"mark": {"type": "point", "filled": true, "size": 260, "opacity": 1, "strokeWidth": 0},
"encoding": {
"y": {"field": "v", "type": "quantitative", "title": "Nosepokes (#)", "scale": {"domain": [0, 400], "nice": false, "range": [577, 150]},
"axis": {"values": [0, 100, 200, 300, 400], "format": "d", "domainColor": "#000", "domainWidth": 4, "tickColor": "#000", "tickWidth": 4, "tickSize": 18, "labelFontWeight": "bold", "labelFontSize": 32, "labelColor": "#000", "labelPadding": 5, "titleFontSize": 35, "titleFontWeight": "normal", "titleColor": "#000", "titleX": -101, "titleY": 344, "titleAngle": -90, "titleBaseline": "alphabetic", "titleAlign": "center"}},
"xOffset": {"field": "s", "type": "quantitative", "scale": {"domain": [-1, 1], "range": [-22.7, 22.7]}},
"color": {"field": "g", "type": "nominal", "scale": {"domain": ["Control", "PFF"], "range": ["#0000ff", "#ff0000"]}, "legend": null}
}
}
]
}
],
"config": {
"view": {"stroke": null},
"font": "Liberation Sans",
"axis": {"grid": false, "labelFont": "Liberation Sans", "titleFont": "Liberation Sans", "labelOverlap": false},
"title": {"font": "Liberation Sans", "fontWeight": "normal", "color": "#000000", "anchor": "start", "frame": "group", "offset": 0, "baseline": "alphabetic"}
}
}
